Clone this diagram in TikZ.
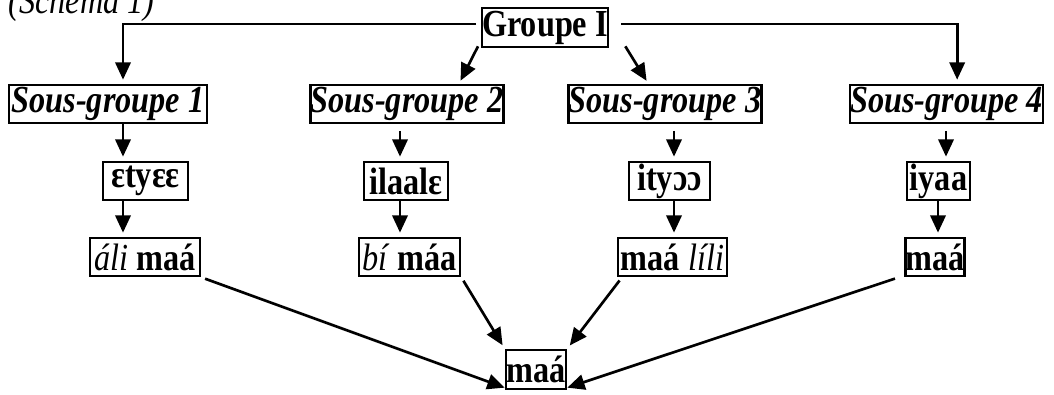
\documentclass[tikz,border=0pt]{standalone}
\usepackage{fontspec}
\usepackage{graphicx}
\setmainfont{Liberation Serif}
\usetikzlibrary{arrows.meta}

\newcommand{\tall}[1]{\scalebox{1.03}[1.22]{#1}}

\tikzset{every picture/.style={line width=0.75pt}}
\tikzset{
	box/.style={draw, line width=2pt, inner sep=0pt, minimum height=38*0.75pt, font=\fontsize{23.5}{27}\selectfont},
	arr/.style={line width=2pt, -{Triangle[length=13pt,width=11.5pt]}},
}

\begin{document}
\begin{tikzpicture}[x=0.75pt,y=0.75pt,yscale=-1,xscale=1]
		\useasboundingbox (0,0) rectangle (1054,395);
		
		\node[anchor=base west, inner sep=0pt, font=\fontsize{23.5}{27}\selectfont\itshape] (titre) at (8,14) {\tall{(Schéma 1)}};
		
		%Shape: Rectangle [Groupe]
		\node[box, minimum width=126*0.75pt, minimum height=39*0.75pt] (grp) at (545,27.5) {\tall{\textbf{Groupe I}}};
		%Shape: Rectangle [Sous-groupes]
		\node[box, minimum width=198*0.75pt] (sg1) at (108,104) {\tall{\textbf{\textit{Sous-groupe 1}}}};
		\node[box, minimum width=192*0.75pt] (sg2) at (407,104) {\tall{\textbf{\textit{Sous-groupe 2}}}};
		\node[box, minimum width=188*0.75pt] (sg3) at (665,104) {\tall{\textbf{\textit{Sous-groupe 3}}}};
		\node[box, minimum width=189*0.75pt] (sg4) at (946.5,104) {\tall{\textbf{\textit{Sous-groupe 4}}}};
		%Shape: Rectangle [langues]
		\node[box, minimum width=85*0.75pt] (l1) at (145.5,181) {\tall{\textbf{ɛtyɛɛ}}};
		\node[box, minimum width=84*0.75pt] (l2) at (406,181) {\tall{\textbf{ilaalɛ}}};
		\node[box, minimum width=81*0.75pt] (l3) at (669.5,181) {\tall{\textbf{ityɔɔ}}};
		\node[box, minimum width=63*0.75pt] (l4) at (938.5,181) {\tall{\textbf{iyaa}}};
		%Shape: Rectangle [formes]
		\node[box, minimum width=110*0.75pt] (f1) at (145,257) {\tall{\textit{áli} \textbf{maá}}};
		\node[box, minimum width=101*0.75pt] (f2) at (409.5,257) {\tall{\textit{bí} \textbf{máa}}};
		\node[box, minimum width=109*0.75pt] (f3) at (672.5,257) {\tall{\textbf{maá} \textit{líli}}};
		\node[box, minimum width=56*0.75pt] (f4) at (935,257) {\tall{\textbf{maá}}};
		\node[box, minimum width=60*0.75pt, minimum height=39*0.75pt] (fin) at (536,369.5) {\tall{\textbf{maá}}};
		
		%columns of the vertical arrows
		\coordinate (x1) at (123,0);
		\coordinate (x2) at (400,0);
		\coordinate (x3) at (674,0);
		\coordinate (x4) at (946,0);
		\coordinate (x4b) at (938,0);
		
		%Groupe I to the four sous-groupes
		\draw[arr, shorten >=3pt] ([xshift=-3.5pt,yshift=-2.6pt]grp.west) -| (sg1.north -| x1);
		\draw[arr, shorten >=3pt] ([xshift=9pt,yshift=-2.6pt]grp.east) -| ([xshift=8pt]sg4.north);
		\draw[arr, shorten >=2.5pt] ([xshift=-2pt,yshift=-1.5pt]grp.south west) -- ([xshift=39pt]sg2.north);
		\draw[arr, shorten >=2.5pt] ([xshift=12pt,yshift=-1.5pt]grp.south east) -- ([xshift=-12.5pt]sg3.north);
		
		%sous-groupe to langue to forme
		\draw[arr, shorten >=3pt] (sg1.south -| x1) -- (l1.north -| x1);
		\draw[arr, shorten >=3pt] (l1.south -| x1) -- (f1.north -| x1);
		\draw[arr, shorten >=3pt, shorten <=5pt] (sg2.south -| x2) -- (l2.north -| x2);
		\draw[arr, shorten >=3pt] (l2.south -| x2) -- (f2.north -| x2);
		\draw[arr, shorten >=3pt, shorten <=5pt] (sg3.south -| x3) -- (l3.north -| x3);
		\draw[arr, shorten >=3pt] (l3.south -| x3) -- (f3.north -| x3);
		\draw[arr, shorten >=3pt, shorten <=5pt] (sg4.south -| x4) -- (l4.north -| x4);
		\draw[arr, shorten >=3pt] (l4.south -| x4b) -- (f4.north -| x4b);
		
		%formes to maá
		\draw[arr, shorten <=3pt] (f1.south east) -- ([yshift=-2pt]fin.south west);
		\draw[arr, shorten <=3pt, shorten >=3pt] (f2.south east) -- (fin.north west);
		\draw[arr, shorten <=3pt, shorten >=3pt] ([xshift=4pt]f3.south west) -- (fin.north east);
		\draw[arr, shorten <=3pt] ([xshift=-4pt]f4.south west) -- ([yshift=-2pt]fin.south east);
		
	\end{tikzpicture}
\end{document}
